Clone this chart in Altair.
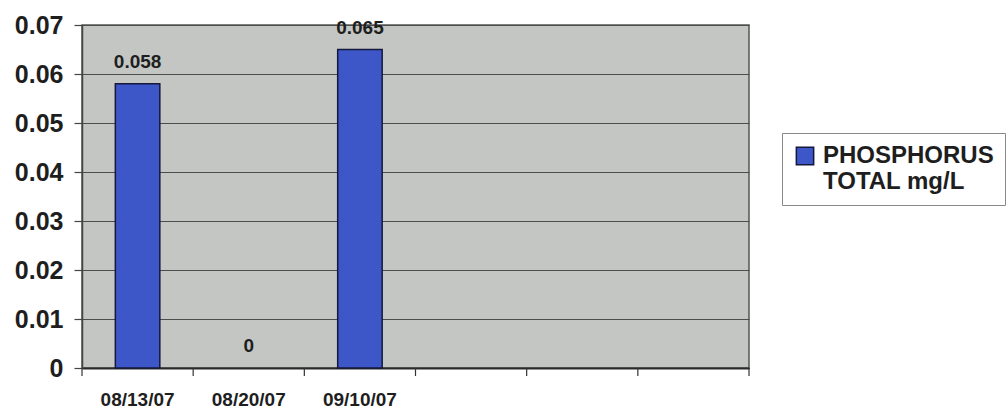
import json

import altair as alt
import pandas as pd

# Sampling dates (six category slots, only three of them used)
slots = [0, 1, 2, 3, 4, 5]
dates = ["08/13/07", "08/20/07", "09/10/07", "", "", ""]
phosphorus = [0.058, 0.0, 0.065]
series_name = "PHOSPHORUS TOTAL mg/L"
y_ticks = [0, 0.01, 0.02, 0.03, 0.04, 0.05, 0.06, 0.07]

FONT = "Liberation Sans"
TEXT = "#1e1e1e"
BAR = "#3d56c8"
BAR_EDGE = "#15183a"
W, H = 667, 343

bars_df = pd.DataFrame(
    {"slot": slots[: len(phosphorus)], "value": phosphorus, "series": series_name}
)
slots_df = pd.DataFrame({"slot": slots})

x_scale = alt.Scale(domain=slots, paddingInner=0, paddingOuter=0)
y_scale = alt.Scale(domain=[0, 0.07], nice=False)

x_axis = alt.Axis(
    title=None,
    labelExpr=f"{json.dumps(dates)}[datum.value]",
    labelAngle=0,
    ticks=False,
    labelFont=FONT,
    labelFontSize=19,
    labelFontWeight="bold",
    labelColor=TEXT,
    labelPadding=22,
    domainColor="#2a2a2a",
    domainWidth=2,
    grid=False,
)
y_axis = alt.Axis(
    title=None,
    values=y_ticks,
    format=".2~f",
    tickSize=8,
    tickColor="#444",
    tickWidth=1.2,
    labelFont=FONT,
    labelFontSize=25,
    labelFontWeight="bold",
    labelColor=TEXT,
    labelPadding=11,
    gridColor="#4d4d4d",
    gridWidth=1,
    domainColor="#444",
    domainWidth=1.5,
)
legend = alt.Legend(
    title=None,
    orient="none",
    legendX=700,
    legendY=108,
    labelExpr="[substring(datum.label, 0, indexof(datum.label, ' ')), "
    "substring(datum.label, indexof(datum.label, ' ') + 1)]",
    labelFont=FONT,
    labelFontSize=24,
    labelFontWeight="bold",
    labelColor=TEXT,
    labelLimit=400,
    labelOffset=6,
    symbolType="square",
    symbolSize=300,
    symbolOpacity=1,
    symbolStrokeColor=BAR_EDGE,
    symbolStrokeWidth=1.5,
    padding=11,
    strokeColor="#888",
    fillColor="white",
)

base = alt.Chart(bars_df)

# zero-height readings leave no visible bar, only their label
bars = (
    base.transform_filter(alt.datum.value > 0)
    .mark_bar(width=alt.RelativeBandSize(0.4), stroke=BAR_EDGE, strokeWidth=1.5)
    .encode(
        x=alt.X("slot:O", scale=x_scale, axis=x_axis),
        y=alt.Y("value:Q", scale=y_scale, axis=y_axis),
        color=alt.Color("series:N", scale=alt.Scale(range=[BAR]), legend=legend),
    )
)

value_labels = base.mark_text(
    dy=-16, baseline="alphabetic", font=FONT, fontSize=19, fontWeight="bold", color=TEXT
).encode(
    x=alt.X("slot:O"),
    y=alt.Y("value:Q"),
    text=alt.Text("value:Q", format="~g"),
)

# Category tick marks sit on the slot boundaries
boundary_ticks = alt.Chart(slots_df).mark_rule(color="#333", strokeWidth=1.2).encode(
    x=alt.X("slot:O", bandPosition=0),
    y=alt.value(H),
    y2=alt.value(H + 8),
)
end_tick = (
    alt.Chart(slots_df)
    .transform_filter(alt.datum.slot == slots[-1])
    .mark_rule(color="#333", strokeWidth=1.2)
    .encode(
        x=alt.X("slot:O", bandPosition=1),
        y=alt.value(H),
        y2=alt.value(H + 8),
    )
)

chart = (
    alt.layer(bars, value_labels, boundary_ticks, end_tick)
    .properties(
        width=W,
        height=H,
        padding={"left": 82, "top": 25, "right": 259, "bottom": 43},
        autosize=alt.AutoSizeParams(type="none"),
        background="white",
    )
    .configure_view(fill="#c4c6c4", stroke="#555", strokeWidth=1.5)
)

chart.save("out.html", embed_options={"renderer": "svg", "actions": False})
